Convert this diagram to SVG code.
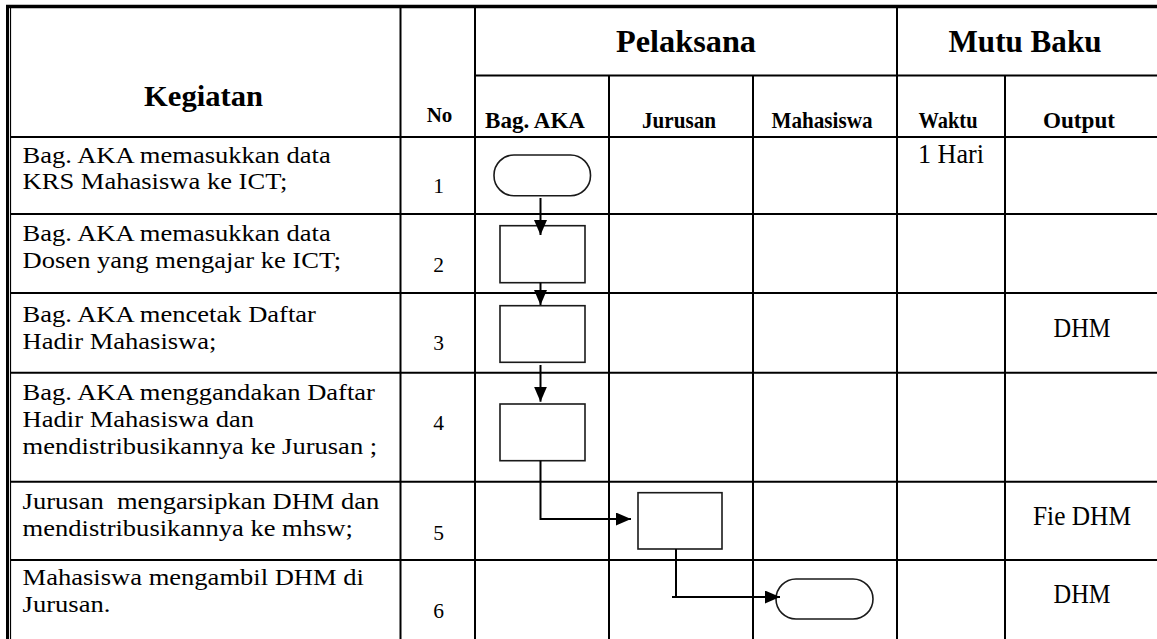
<svg xmlns="http://www.w3.org/2000/svg" width="1157" height="639" viewBox="0 0 1157 639">
  <defs>
    <style>
      .grid { stroke: #000; stroke-width: 2; fill: none; }
      .shape { fill: #fff; stroke: #1a1a1a; stroke-width: 1.6; }
      .conn { stroke: #000; stroke-width: 2; fill: none; }
      .hd { font-family: "Liberation Serif", serif; font-weight: bold; fill: #000; }
      .tx { font-family: "Liberation Serif", serif; fill: #000; }
    </style>
    <marker id="arrow" markerUnits="userSpaceOnUse" markerWidth="16" markerHeight="14" refX="15" refY="6.5" orient="auto">
      <path d="M0,0 L15,6.5 L0,13 z" fill="#000"/>
    </marker>
  </defs>
  <rect width="1157" height="639" fill="#fff"/>

  <!-- table frame and grid -->
  <g id="table">
    <line x1="6" y1="6.5" x2="1157" y2="6.5" stroke="#000" stroke-width="3.5"/>
    <line x1="7.5" y1="5" x2="7.5" y2="639" stroke="#000" stroke-width="3"/>
    <line x1="10.5" y1="8" x2="10.5" y2="639" stroke="#000" stroke-width="1.2"/>
    <line class="grid" x1="475" y1="75.5" x2="1157" y2="75.5"/>
    <line class="grid" x1="10" y1="137" x2="1157" y2="137"/>
    <line class="grid" x1="10" y1="214" x2="1157" y2="214"/>
    <line class="grid" x1="10" y1="293" x2="1157" y2="293"/>
    <line class="grid" x1="10" y1="372.7" x2="1157" y2="372.7"/>
    <line class="grid" x1="10" y1="481.7" x2="1157" y2="481.7"/>
    <line class="grid" x1="10" y1="560" x2="1157" y2="560"/>
    <line class="grid" x1="400.5" y1="8" x2="400.5" y2="639"/>
    <line class="grid" x1="475" y1="8" x2="475" y2="639"/>
    <line class="grid" x1="609" y1="75.5" x2="609" y2="639"/>
    <line class="grid" x1="753" y1="75.5" x2="753" y2="639"/>
    <line class="grid" x1="897" y1="8" x2="897" y2="639"/>
    <line class="grid" x1="1005" y1="75.5" x2="1005" y2="639"/>
  </g>

  <!-- header labels -->
  <g id="header">
    <text class="hd" font-family="Liberation Serif, serif" x="203.5" y="106" font-size="29" text-anchor="middle" textLength="119" lengthAdjust="spacingAndGlyphs">Kegiatan</text>
    <text class="hd" font-family="Liberation Serif, serif" x="439.5" y="122" font-size="21" text-anchor="middle">No</text>
    <text class="hd" font-family="Liberation Serif, serif" x="686" y="52" font-size="31" text-anchor="middle" textLength="140" lengthAdjust="spacingAndGlyphs">Pelaksana</text>
    <text class="hd" font-family="Liberation Serif, serif" x="1025" y="52" font-size="31" text-anchor="middle" textLength="153" lengthAdjust="spacingAndGlyphs">Mutu Baku</text>
    <text class="hd" font-family="Liberation Serif, serif" x="535" y="128" font-size="23.5" text-anchor="middle" textLength="100" lengthAdjust="spacingAndGlyphs">Bag. AKA</text>
    <text class="hd" font-family="Liberation Serif, serif" x="679" y="128" font-size="23.5" text-anchor="middle" textLength="74" lengthAdjust="spacingAndGlyphs">Jurusan</text>
    <text class="hd" font-family="Liberation Serif, serif" x="822" y="128" font-size="23.5" text-anchor="middle" textLength="101" lengthAdjust="spacingAndGlyphs">Mahasiswa</text>
    <text class="hd" font-family="Liberation Serif, serif" x="948" y="128" font-size="23.5" text-anchor="middle" textLength="59" lengthAdjust="spacingAndGlyphs">Waktu</text>
    <text class="hd" font-family="Liberation Serif, serif" x="1079" y="128" font-size="23.5" text-anchor="middle" textLength="72" lengthAdjust="spacingAndGlyphs">Output</text>
  </g>

  <!-- activity descriptions (slightly widened serif) -->
  <g id="activities" class="tx" font-family="Liberation Serif, serif" font-size="23.5" transform="scale(1.13,1)">
    <text x="20" y="163">Bag. AKA memasukkan data</text>
    <text x="20" y="189">KRS Mahasiswa ke ICT;</text>
    <text x="20" y="241.5">Bag. AKA memasukkan data</text>
    <text x="20" y="268">Dosen yang mengajar ke ICT;</text>
    <text x="20" y="322">Bag. AKA mencetak Daftar</text>
    <text x="20" y="349">Hadir Mahasiswa;</text>
    <text x="20" y="400">Bag. AKA menggandakan Daftar</text>
    <text x="20" y="427">Hadir Mahasiswa dan</text>
    <text x="20" y="454">mendistribusikannya ke Jurusan ;</text>
    <text x="20" y="509" xml:space="preserve">Jurusan  mengarsipkan DHM dan</text>
    <text x="20" y="536">mendistribusikannya ke mhsw;</text>
    <text x="20" y="585">Mahasiswa mengambil DHM di</text>
    <text x="20" y="612">Jurusan.</text>
  </g>

  <!-- step numbers -->
  <g id="numbers" class="tx" font-family="Liberation Serif, serif" font-size="21.5" text-anchor="middle">
    <text x="438.5" y="193">1</text>
    <text x="438.5" y="271.5">2</text>
    <text x="438.5" y="350">3</text>
    <text x="438.5" y="430">4</text>
    <text x="438.5" y="540">5</text>
    <text x="438.5" y="618">6</text>
  </g>

  <!-- time and output columns -->
  <g id="standards" class="tx" font-family="Liberation Serif, serif" font-size="27" text-anchor="middle">
    <text x="951" y="163" textLength="66" lengthAdjust="spacingAndGlyphs">1 Hari</text>
    <text x="1082" y="337" textLength="57" lengthAdjust="spacingAndGlyphs">DHM</text>
    <text x="1082" y="525" textLength="98" lengthAdjust="spacingAndGlyphs">Fie DHM</text>
    <text x="1082" y="603" textLength="57" lengthAdjust="spacingAndGlyphs">DHM</text>
  </g>

  <!-- flow nodes -->
  <g id="n1"><rect class="shape" x="494" y="155" width="96.5" height="40.7" rx="20" ry="20"/></g>
  <g id="n2"><rect class="shape" x="500" y="225.7" width="85" height="57"/></g>
  <g id="n3"><rect class="shape" x="500" y="305.7" width="85" height="56.6"/></g>
  <g id="n4"><rect class="shape" x="500" y="404" width="85" height="56.7"/></g>
  <g id="n5"><rect class="shape" x="638" y="492.7" width="84" height="56.3"/></g>
  <g id="n6"><rect class="shape" x="776" y="579" width="97" height="40" rx="20" ry="20"/></g>

  <!-- connectors -->
  <g id="connectors">
    <path class="conn" d="M540.5,198 V235" marker-end="url(#arrow)"/>
    <path class="conn" d="M540.5,282.7 V305" marker-end="url(#arrow)"/>
    <path class="conn" d="M540.5,365 V401.7" marker-end="url(#arrow)"/>
    <path class="conn" d="M540.5,460.7 V519 H631" marker-end="url(#arrow)"/>
    <path class="conn" d="M676,549 V597 M672,597 H780" marker-end="url(#arrow)"/>
  </g>
</svg>
